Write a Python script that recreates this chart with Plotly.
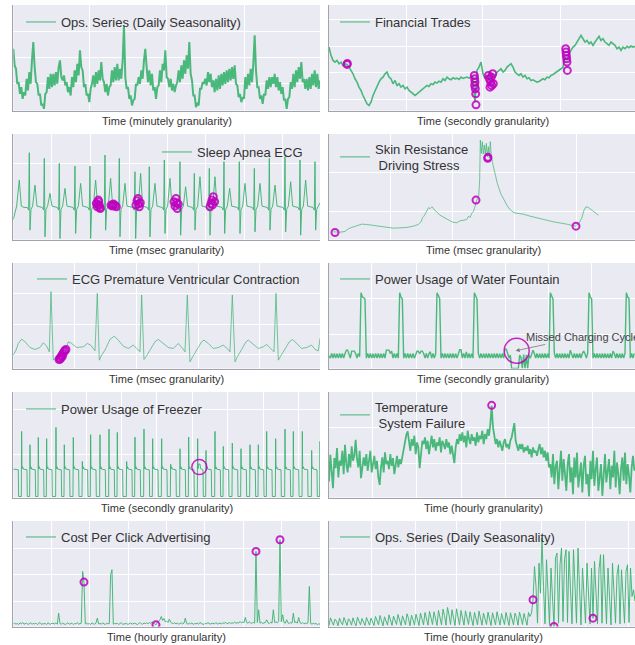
import plotly.graph_objects as go

# ---------------- data ----------------
# Panel 1: Ops series, minutely (uniform samples)
ops_minutely = [185,135,125,80,85,50,70,35,55,45,
                95,60,115,80,150,205,130,85,80,45,
                50,15,20,5,50,55,100,65,110,70,
                110,75,115,80,130,150,100,90,105,75,
                85,55,70,45,100,70,120,85,140,105,
                180,130,120,70,80,45,50,25,65,80,
                105,70,115,80,120,90,145,95,85,55,
                80,45,70,75,120,85,130,90,140,90,
                125,95,150,255,100,65,70,35,45,15,
                30,35,80,75,100,80,120,95,150,185,
                130,85,120,75,110,60,70,35,70,75,
                120,85,140,120,180,100,95,70,95,60,
                80,55,75,85,120,85,135,95,150,110,
                165,125,205,110,90,45,45,10,20,15,
                65,65,85,80,95,75,115,85,110,70,
                90,55,95,60,105,65,110,75,115,80,
                120,85,125,90,130,95,135,80,75,40,
                50,25,40,35,100,65,110,75,125,85,
                140,225,120,70,70,35,45,20,50,45,
                90,65,100,70,100,80,110,70,100,60,
                85,50,70,30,35,5,35,40,85,65,
                110,70,120,85,130,95,145,85,95,65,
                95,60,100,65,110,75,120,70,110,65,
                90]

# Panel 2: Financial trades (uniform samples)
fin_trades = [190,165,150,145,150,140,145,135,140,138,
              130,120,110,95,85,70,60,45,30,20,
              15,25,45,60,75,85,95,100,110,115,
              100,95,80,90,75,80,70,75,65,70,
              60,55,50,45,50,55,60,65,70,75,
              72,80,78,85,82,88,85,95,90,100,
              95,92,98,95,97,93,100,96,98,100,
              97,101,100,25,120,130,145,110,95,105,
              100,95,110,100,115,120,125,115,120,130,
              135,140,130,115,110,105,110,100,105,95,
              98,90,92,88,85,87,90,95,92,100,
              98,105,108,112,115,120,125,130,160,150,
              170,180,190,195,205,215,225,215,205,210,
              200,205,195,205,215,222,210,215,205,200,
              195,205,200,195,185,190,180,190,185,192,
              188,193,190,192]
fin_anom_t = [81,82,463,464,465,464,466,467,468,505,508,512,515,518,520,510,514,737,738,739,740,741,742]
fin_anom_v = [138,141,105,95,85,75,65,50,17,105,95,85,75,110,80,70,100,185,175,165,155,145,120]

# Panel 3: Sleep apnea ECG
apnea_t = [40,50,58,64,72,
           82,86,88,90,93,98,105,111,
           127,131,133,135,138,143,150,156,
           172,176,178,180,183,188,195,201,
           219,223,225,227,230,235,242,248,
           264,268,270,272,275,280,287,293,
           309,313,315,317,320,325,332,338,
           352,356,358,360,363,368,375,381,
           399,403,405,407,410,415,422,428,
           442,446,448,450,453,458,465,471,
           487,491,493,495,498,503,510,516,
           534,538,540,542,545,550,557,563,
           577,581,583,585,588,593,600,606,
           622,626,628,630,633,638,645,651,
           666,670,672,674,677,682,689,695,
           712,716,718,720,723,728,735,741,
           757,761,763,765,768,773,780,786,
           802,806,808,810,813,818,825,831,
           849,853,855,857,860,865,872,878,
           894,898,900,902,905,910,917,923,
           939,943,945,947,950,955,960]
apnea_v = [60,100,178,100,96,
           96,88,260,28,90,100,163,100,
           96,88,243,8,90,100,138,100,
           96,88,228,3,90,100,153,100,
           96,88,220,18,90,100,168,100,
           96,88,220,3,90,100,178,100,
           96,88,253,28,90,100,183,100,
           96,88,243,8,90,100,168,100,
           96,88,203,3,90,100,198,100,
           96,88,218,8,90,100,168,100,
           96,88,238,18,90,100,183,100,
           96,88,233,13,90,100,158,100,
           96,88,198,28,90,100,188,100,
           96,88,213,13,90,100,188,100,
           96,88,233,18,90,100,153,100,
           96,88,233,18,90,100,168,100,
           96,88,213,23,90,100,168,100,
           96,88,243,28,90,100,163,100,
           96,88,248,23,90,100,173,100,
           96,88,238,13,90,100,178,100,
           96,88,233,28,90,100,110]
apnea_anom_t = [289,292,295,298,301,296,293,299,
                333,337,341,345,349,339,
                408,411,414,418,421,416,
                522,525,528,532,535,530,
                630,633,636,640,644,638]
apnea_anom_v = [108,98,118,103,93,113,105,96,
                103,100,106,102,98,104,
                103,116,123,98,110,106,
                113,100,123,93,106,110,
                98,108,118,128,113,104]

# Panel 4: Skin resistance
skin_t = [40,60,75,85,95,110,125,140,160,180,200,220,240,260,280,295,303,308,312,318,
          322,326,330,336,342,350,360,372,385,398,410,420,432,440,446,450,455,460,464,468,
          472,476,479,481,484,487,490,493,496,499,502,505,508,511,514,518,524,532,542,552,
          562,572,582,595,610,630,660,700,740,765,775,785,792,798,805,815,825,835]
skin_v = [23,22,24,32,36,41,46,45,42,38,35,34,35,36,40,45,53,66,70,80,
          88,96,92,98,90,83,73,66,60,52,50,56,58,60,70,66,78,83,96,113,
          123,128,178,298,258,293,256,283,253,288,248,278,243,293,248,228,198,168,138,118,
          100,88,80,78,76,70,63,53,46,40,46,63,88,98,96,88,80,73]
skin_anom_t = [45,468,503,504,768]
skin_anom_v = [21,118,243,246,40]

# Panel 5: ECG premature ventricular contraction
pvc_t = [40,48,55,65,75,90,105,120,130,140,148,153,160,165,175,185,195,205,215,230,
         250,262,272,285,292,298,305,315,330,343,355,370,385,400,410,420,425,432,438,450,
         465,475,490,505,520,535,548,555,562,570,578,590,605,612,625,640,655,670,682,690,
         697,705,712,725,738,745,760,775,790,800,812,822,828,835,842,855,868,878,890,905,
         920,935,945,955,960]
pvc_v = [40,55,75,88,80,63,57,63,77,67,50,230,25,30,33,40,50,80,75,63,
         65,75,70,53,225,25,40,55,87,97,85,67,60,70,60,50,220,27,35,55,
         80,87,75,63,60,75,60,50,220,20,35,55,80,85,75,60,63,70,60,50,
         220,20,35,57,80,85,73,60,65,72,60,50,225,25,37,57,80,87,75,60,
         63,70,57,53,90]
pvc_anom_t = [177,180,183,186,189,192,195,198,181,187]
pvc_anom_v = [27,31,35,40,45,50,54,57,28,36]

# Panel 6: Power usage of water fountain (uniform samples)
fountain = [38,31,45,31,45,31,44,31,45,31,45,31,44,55,55,45,31,52,52,52,44,31,45,
            35,
            227,215,212,208,
            31,45,31,45,31,44,31,45,31,45,31,44,31,45,31,55,55,55,45,52,31,45,31,45,31,
            227,214,208,
            31,45,31,45,31,44,31,45,31,45,52,52,44,52,52,45,31,45,31,45,50,31,45,31,44,
            227,215,210,
            31,45,31,45,31,44,31,45,31,45,31,44,31,45,56,56,31,45,31,50,31,45,31,44,31,
            227,214,208,
            45,31,45,31,44,31,45,31,45,31,44,31,45,31,45,31,44,31,45,31,58,58,45,31,40,
            0,0,0,0,0,0,40,33,0,42,0,40,0,41,
            31,45,55,45,31,45,31,44,31,45,31,45,31,44,31,
            227,214,208,
            45,31,45,31,44,31,45,31,45,31,44,31,55,45,31,45,31,44,31,45,31,45,52,44,31,45,
            227,214,208,
            31,45,31,45,31,44,31,45,31,45,31,44,31,45,31,52,45,31,45,31,44,31,45,31,45,
            227,214,210,
            31,45,31,45]
fountain_anom_t = [590]
fountain_anom_v = [53]

# Panel 7: Power usage of freezer
freezer_t = [40,55,56,
             64,65,66,68,70,81,82,
             89,90,91,93,95,106,107,
             114,115,116,118,120,131,132,
             139,140,141,143,145,156,157,
             167,168,169,171,173,184,185,
             192,193,194,196,198,209,210,
             219,220,221,223,225,236,237,
             246,247,248,250,252,263,264,
             271,272,273,275,277,288,289,
             299,300,301,303,305,316,317,
             326,327,328,330,332,343,344,
             351,352,353,355,357,368,369,
             379,380,381,383,385,396,397,
             404,405,406,408,410,421,422,
             431,432,433,435,437,448,449,
             457,458,459,461,463,474,475,
             484,485,486,488,490,501,502,
             511,512,513,515,517,528,529,
             539,540,541,543,545,556,557,
             565,566,567,569,571,582,583,
             592,593,594,596,600,602,609,610,
             617,618,619,621,623,634,635,
             644,645,646,648,650,661,662,
             669,670,671,673,675,686,687,
             696,697,698,700,702,713,714,
             722,723,724,726,728,739,740,
             749,750,751,753,755,766,767,
             774,775,776,778,780,791,792,
             799,800,801,803,805,816,817,
             826,827,828,830,832,843,844,
             854,855,856,858,860,871,872,
             879,880,881,883,885,896,897,
             906,907,908,910,912,923,924,
             934,935,936,938,940,951,952,
             959,960,961,963,965,976,977]
freezer_v = [85,83,3,
             3,198,86,92,85,83,3,
             3,158,86,92,85,83,3,
             3,180,86,92,85,83,3,
             3,176,86,92,85,83,3,
             3,210,86,92,85,83,3,
             3,158,86,92,85,83,3,
             3,180,86,92,85,83,3,
             3,108,86,92,85,83,3,
             3,188,86,92,85,83,3,
             3,188,86,92,85,83,3,
             3,205,86,92,85,83,3,
             3,195,86,92,85,83,3,
             3,108,86,92,85,83,3,
             3,181,86,92,85,83,3,
             3,205,86,92,85,83,3,
             3,176,86,92,85,83,3,
             3,176,86,92,85,83,3,
             3,100,86,92,85,83,3,
             3,146,86,92,85,83,3,
             3,181,86,92,85,83,3,
             3,176,86,100,100,86,83,3,
             3,141,86,92,85,83,3,
             3,198,86,92,85,83,3,
             3,153,86,92,85,83,3,
             3,163,86,92,85,83,3,
             3,146,86,92,85,83,3,
             3,158,86,92,85,83,3,
             3,158,86,92,85,83,3,
             3,198,86,92,85,83,3,
             3,176,86,92,85,83,3,
             3,205,86,92,85,83,3,
             3,198,86,92,85,83,3,
             3,198,86,92,85,83,3,
             3,141,86,92,85,83,3,
             3,168,86,92,85,83,3]
freezer_anom_t = [598]
freezer_anom_v = [91]

# Panel 8: Temperature system failure (uniform samples)
temperature = [48,128,78,28,118,88,148,60,110,95,140,70,158,100,75,130,90,153,110,
               125,173,115,90,140,58,100,
               120,95,130,80,115,140,75,105,125,85,110,60,38,
               90,120,75,135,100,110,85,130,95,118,70,105,125,90,115,100,120,
               150,170,188,198,160,
               140,175,155,185,130,165,150,88,140,170,160,180,145,170,130,160,185,150,175,140,
               165,155,180,135,170,160,145,175,150,165,130,155,120,
               103,150,175,160,190,170,195,165,185,150,200,175,160,190,170,180,155,195,165,185,
               175,200,160,190,175,205,185,
               220,275,
               210,185,160,175,150,170,155,140,165,175,150,160,145,170,180,210,223,170,150,140,160,
               145,160,135,150,140,155,130,145,120,150,135,140,125,145,160,130,150,120,140,110,135,90,
               100,60,130,40,95,110,25,85,140,50,115,70,20,100,130,45,90,10,120,60,
               135,30,80,105,15,95,125,40,70,3,110,55,140,35,85,120,20,65,100,5,
               90,130,45,75,115,25,95,60,140,30,105,70,10,85,120,50,135,40,100,65,
               15,90,125,80]
temp_anom_t = [515]
temp_anom_v = [276]

# Panel 9: Cost per click advertising (uniform samples)
cpc = [8,10,7,9,6,11,8,12,7,9,10,6,8,11,7,9,8,10,6,9,12,7,8,10,9,6,11,8,7,10,9,8,11,7,
       40,
       9,7,10,8,6,9,11,7,8,10,6,9,8,12,7,9,10,
       165,133,
       8,10,7,9,6,11,8,7,10,
       25,
       8,9,7,11,8,6,10,8,9,
       155,170,
       7,9,8,10,6,9,11,7,8,10,9,6,8,11,7,9,10,8,6,9,12,8,7,10,9,11,8,12,9,14,11,10,
       5,
       12,15,20,30,18,24,14,16,12,22,13,10,9,11,8,10,7,9,11,8,10,
       25,
       9,7,10,8,11,6,9,8,10,7,12,9,8,6,10,9,11,8,7,10,9,8,12,7,9,10,8,11,9,12,
       10,8,13,9,11,10,14,9,12,10,15,11,13,12,
       27,
       12,10,14,11,9,13,10,
       225,
       12,50,10,13,9,11,12,
       20,
       11,9,13,10,
       50,
       12,14,11,16,
       260,
       14,35,12,10,
       20,
       11,9,12,10,
       40,
       12,14,10,
       27,
       11,9,12,8,10,9,11,
       120,
       9,7,10,8,9,6,8,7]
cpc_anom_t = [252,468,768,840]
cpc_anom_v = [133,5,225,260]

# Panel 10: Ops series, hourly (uniform samples)
ops_hourly = [3,26,14,4,22,16,2,25,13,5,27,15,3,23,17,4,26,12,2,28,16,5,24,14,3,27,18,4,25,15,
              3,30,18,5,33,20,2,29,17,4,35,22,3,31,19,6,36,21,3,32,18,5,38,24,2,34,20,4,37,23,
              3,40,25,5,42,26,4,45,28,6,44,27,3,48,30,5,52,33,4,57,35,6,50,30,3,53,32,5,48,29,
              4,47,28,6,44,27,3,42,26,5,46,28,4,40,24,6,43,27,3,41,25,5,44,28,4,39,24,6,42,26,
              3,41,25,5,40,27,4,43,26,6,39,24,4,42,30,
              40,
              80,180,120,10,190,100,265,120,8,200,
              110,5,175,90,0,205,220,10,185,235,
              15,200,230,12,225,110,8,230,120,10,
              235,100,5,175,90,10,190,80,8,175,
              25,195,100,8,170,215,10,215,110,8,
              175,90,5,190,95,10,155,185,8,170,
              90,10,165,185,12,175,90,110,75]
ops_h_anom_t = [639,702,819]
ops_h_anom_v = [80,0,25]

legend_names = ["Ops. Series (Daily Seasonality)", "Financial Trades", "Sleep Apnea ECG",
                "Skin Resistance<br>\u00a0Driving Stress", "ECG Premature Ventricular Contraction",
                "Power Usage of Water Fountain", "Power Usage of Freezer",
                "Temperature<br>\u00a0System Failure", "Cost Per Click Advertising",
                "Ops. Series (Daily Seasonality)"]
axis_labels = ["Time (minutely granularity)", "Time (secondly granularity)",
               "Time (msec granularity)", "Time (msec granularity)",
               "Time (msec granularity)", "Time (secondly granularity)",
               "Time (secondly granularity)", "Time (hourly granularity)",
               "Time (hourly granularity)", "Time (hourly granularity)"]

# ---------------- layout helpers ----------------
W, H = 635, 645
FONT = "Liberation Sans, Arial, sans-serif"
GREEN = "rgba(60,179,113,0.92)"
GREEN_LIGHT = "rgba(60,179,113,0.7)"
GREEN_LEGEND = "rgba(60,179,113,0.75)"
MAG = "rgba(191,0,191,0.85)"

def uni(start, step, n):
    return [start + step * i for i in range(n)]

series = [
    (uni(40, 4, len(ops_minutely)), ops_minutely, None, None, 2.0, GREEN),
    (uni(27, 6, len(fin_trades)), fin_trades, fin_anom_t, fin_anom_v, 1.6, GREEN),
    (apnea_t, apnea_v, apnea_anom_t, apnea_anom_v, 1.0, GREEN),
    (skin_t, skin_v, skin_anom_t, skin_anom_v, 1.0, GREEN_LIGHT),
    (pvc_t, pvc_v, pvc_anom_t, pvc_anom_v, 1.0, GREEN_LIGHT),
    (uni(27, 4, len(fountain)), fountain, fountain_anom_t, fountain_anom_v, 1.4, GREEN),
    (freezer_t, freezer_v, freezer_anom_t, freezer_anom_v, 1.0, GREEN),
    (uni(27, 4, len(temperature)), temperature, temp_anom_t, temp_anom_v, 1.8, GREEN),
    (uni(40, 4, len(cpc)), cpc, cpc_anom_t, cpc_anom_v, 1.0, GREEN),
    (uni(27, 4.5, len(ops_hourly)), ops_hourly, ops_h_anom_t, ops_h_anom_v, 1.0, GREEN),
]
marker_sizes = [7, 7, 7, 7, 7, 25, 15, 7, 7, 7]
marker_widths = [2, 2, 2, 2, 2, 1.5, 1.5, 2, 2, 2]

xgrid = [[270, 500, 735], [258, 488, 720], [155, 272, 388, 503, 617, 733, 848],
         [212, 398, 583, 768], [225, 410, 595, 780], [155, 290, 425, 555, 685, 815],
         [155, 260, 365, 470, 578, 683, 790, 895], [157, 290, 425, 555, 685, 818],
         [155, 270, 385, 500, 615, 730, 845], [155, 285, 410, 540, 665, 795, 925]]
ygrid = [[80, 158, 238], [33, 113, 193, 273], [228], [85, 200], [42, 133, 225],
         [103, 210], [130, 265], [103, 210], [75, 155, 235], [75, 155, 235]]

row_tops = [5, 134, 263, 392, 521]
ROW_H = 105.5
label_y = [121, 250, 379, 508, 636.5]
legend_pos = [(26, 22), (340, 22), (162, 152), (340, 157), (37, 279),
              (340, 279), (26, 409), (340, 415), (26, 537), (340, 537)]

fig = go.Figure()
layout = dict(width=W, height=H, margin=dict(l=0, r=0, t=0, b=0),
              paper_bgcolor="white", plot_bgcolor="#EAEAF2",
              font=dict(family=FONT, color="#333333"), annotations=[])

for k in range(10):
    n = k + 1
    row, col = k // 2, k % 2
    xs, ys, ax_t, ax_v, lw, color = series[k]
    xr = [40, 960] if col == 0 else [27, 945]
    xd = [13.3 / W, 320 / W] if col == 0 else [329 / W, 1.0]
    top = row_tops[row]
    yd = [1 - (top + ROW_H) / H, 1 - top / H]
    xa = "x" if n == 1 else f"x{n}"
    ya = "y" if n == 1 else f"y{n}"
    lg = "legend" if n == 1 else f"legend{n}"
    fig.add_trace(go.Scatter(x=xs, y=ys, mode="lines", name=legend_names[k],
                             line=dict(color=color, width=lw), xaxis=xa, yaxis=ya,
                             showlegend=False, hoverinfo="skip"))
    # legend entry (thin, light sample line as in the reference)
    fig.add_trace(go.Scatter(x=[None], y=[None], mode="lines", name=legend_names[k],
                             line=dict(color=GREEN_LEGEND, width=1.3), xaxis=xa, yaxis=ya,
                             legend=lg, showlegend=True, hoverinfo="skip"))
    if ax_t:
        fig.add_trace(go.Scatter(x=ax_t, y=ax_v, mode="markers", showlegend=False,
                                 marker=dict(symbol="circle-open", size=marker_sizes[k],
                                             color=MAG, line=dict(width=marker_widths[k], color=MAG)),
                                 xaxis=xa, yaxis=ya, hoverinfo="skip"))
    axis_common = dict(showgrid=True, gridcolor="white", gridwidth=1, zeroline=False,
                       showticklabels=False, ticks="", showline=True,
                       linecolor="#a3a3ad", linewidth=1, fixedrange=True)
    layout["xaxis" if n == 1 else f"xaxis{n}"] = dict(
        domain=xd, range=xr, tickmode="array", tickvals=xgrid[k],
        anchor=ya, **axis_common)
    layout["yaxis" if n == 1 else f"yaxis{n}"] = dict(
        domain=yd, range=[0, 316], tickmode="array", tickvals=ygrid[k],
        anchor=xa, **axis_common)
    lx, ly = legend_pos[k]
    layout[lg] = dict(x=(lx - 5) / W, y=1 - ly / H, xanchor="left", yanchor="middle",
                      bgcolor="rgba(0,0,0,0)", borderwidth=0,
                      font=dict(size=13, color="#333333", family=FONT))
    cx = (13.3 + 320) / 2 if col == 0 else (329 + 637) / 2
    layout["annotations"].append(dict(text=axis_labels[k], x=cx / W, y=1 - label_y[row] / H,
                                      xref="paper", yref="paper", showarrow=False,
                                      xanchor="center", yanchor="middle",
                                      font=dict(size=11, color="#333333", family=FONT)))

# Water fountain annotation
layout["annotations"].append(dict(text="Missed Charging Cycle", x=612, y=93, xref="x6", yref="y6",
                                  showarrow=False, xanchor="left", yanchor="middle",
                                  font=dict(size=11, color="#444444", family=FONT)))
layout["annotations"].append(dict(text="", x=587, y=53, ax=680, ay=73, xref="x6", yref="y6",
                                  axref="x6", ayref="y6", showarrow=True, arrowhead=2,
                                  arrowsize=1, arrowwidth=0.8, arrowcolor="#777777"))

fig.update_layout(**layout)
fig.write_html("out.html", config={"displayModeBar": False},
               post_script="document.body.style.margin='0px';document.body.style.overflow='hidden';")
